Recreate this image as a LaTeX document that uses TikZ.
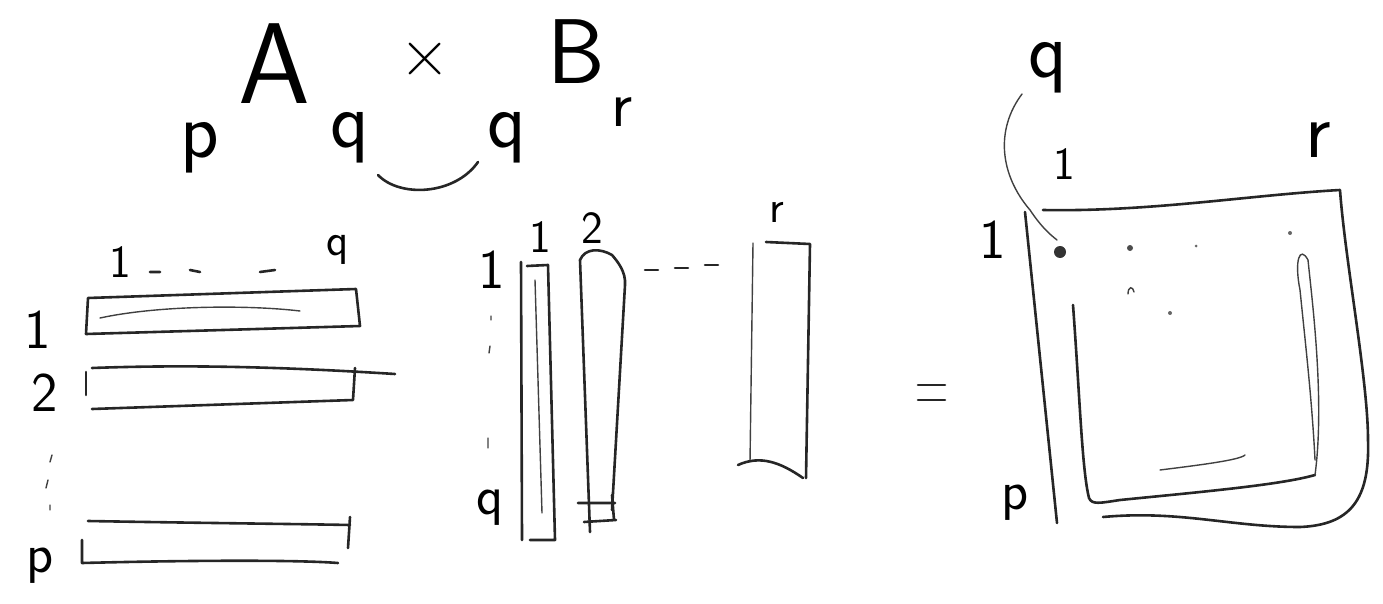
\documentclass[tikz,border=0pt]{standalone}
\begin{document}
\begin{tikzpicture}[x=1pt,y=-1pt,
  pen/.style={line width=2.6pt,line cap=round,line join=round,black!85},
  thin pen/.style={line width=1.4pt,line cap=round,black!75},
  big/.style={font=\sffamily\fontsize{115}{115}\selectfont},
  bigb/.style={font=\sffamily\fontsize{92}{92}\selectfont},
  mid/.style={font=\sffamily\fontsize{80}{80}\selectfont},
  lab/.style={font=\sffamily\fontsize{56}{56}\selectfont},
  sm/.style={font=\sffamily\fontsize{46}{46}\selectfont}]
\useasboundingbox (0,0) rectangle (1383,604);
% title
\node[big] (tA) at (274,64) {A};
\node[font=\sffamily\fontsize{70}{70}\selectfont] (tx) at (425,60) {×};
\node[bigb] (tB) at (576,52) {B};
\node[mid] (dp) at (200,148) {p};
\node[mid] (dq1) at (350,138) {q};
\node[mid] (dq2) at (507,138) {q};
\node[font=\sffamily\fontsize{66}{66}\selectfont] (dr) at (622,112) {r};
\draw[pen] (378,175) .. controls (400,198) and (455,195) .. (478,162);
% matrix A
\node[sm] (ac1) at (120,262) {1};
\node[sm] (acq) at (338,250) {q};
\draw[pen] (150,272)--(160,272) (190,270)--(200,272) (260,272)--(275,270);
\node[lab] (ar1) at (38,330) {1};
\node[lab] (ar2) at (45,393) {2};
\node[lab] (arp) at (40,566) {p};
\draw[pen] (88,298) -- (356,289) -- (360,326) -- (86,334) -- cycle;
\draw[thin pen] (100,318) .. controls (160,305) and (250,305) .. (300,311);
\draw[pen] (86,372)--(86,395);
\draw[pen] (92,368) .. controls (200,364) and (300,368) .. (395,374);
\draw[pen] (355,368)--(353,400)--(92,409);
\draw[thin pen] (52,455)--(50,462) (48,480)--(46,488) (50,505)--(50,510);
\draw[pen] (88,521) .. controls (200,523) and (300,524) .. (350,525);
\draw[pen] (350,517)--(348,548);
\draw[pen] (82,540)--(82,563) .. controls (200,560) and (300,560) .. (338,563);
% matrix B
\node[sm] (bc1) at (540,237) {1};
\node[sm] (bc2) at (592,228) {2};
\node[sm] (bcr) at (777,212) {r};
\node[lab] (br1) at (492,270) {1};
\node[lab] (brq) at (490,508) {q};
\draw[thin pen] (491,316)--(491,320) (490,346)--(489,353) (488,438)--(488,448);
\draw[pen] (521,262)--(522,540);
\draw[pen] (527,266)--(548,265)--(555,540)--(530,540);
\draw[thin pen] (535,280)--(542,513);
\draw[pen] (590,532)--(580,260) .. controls (585,248) and (600,248) .. (612,255)
  .. controls (618,262) and (626,272) .. (625,285) -- (612,510);
\draw[pen] (578,503)--(615,503) (584,522)--(616,520) (612,495)--(614,520);
\draw[pen] (645,270)--(658,270) (675,268)--(688,268) (705,265)--(718,265);
\draw[thin pen] (753,243)--(750,462);
\draw[pen] (766,242)--(810,244)--(806,478);
\draw[pen] (738,465) .. controls (760,455) and (780,462) .. (803,478);
% equals
\draw[pen] (918,385)--(945,385) (918,400)--(945,400);
% result matrix
\node[mid] (cq) at (1048,68) {q};
\node[sm] (cc1) at (1064,164) {1};
\node[mid] (ccr) at (1318,140) {r};
\node[lab] (cr1) at (993,240) {1};
\node[lab] (crp) at (1015,503) {p};
\draw[thin pen] (1022,94) .. controls (995,130) and (1000,175) .. (1030,210)
  .. controls (1040,225) and (1048,233) .. (1057,240);
\draw[pen] (1025,212)--(1057,523);
\draw[pen] (1043,210) .. controls (1150,212) and (1250,195) .. (1340,190)
  .. controls (1345,260) and (1368,380) .. (1368,440)
  .. controls (1370,500) and (1350,525) .. (1300,527)
  .. controls (1230,527) and (1180,510) .. (1103,517);
\draw[pen] (1073,305) .. controls (1080,400) and (1082,470) .. (1089,498)
  .. controls (1092,505) and (1100,503) .. (1120,500)
  .. controls (1200,492) and (1280,485) .. (1315,475);
\draw[thin pen] (1315,475) .. controls (1325,400) and (1312,300) .. (1308,260)
  .. controls (1300,245) and (1294,260) .. (1300,290) .. controls (1305,340) and (1312,400) .. (1315,460);
\draw[thin pen] (1160,470) .. controls (1200,465) and (1240,460) .. (1245,455);
\fill[black!80] (1060,252) circle (6);
\fill[black!70] (1130,248) circle (3);
\fill[black!60] (1196,246) circle (1.5);
\fill[black!60] (1290,233) circle (2);
\fill[black!60] (1170,313) circle (2);
\draw[thin pen] (1128,294) .. controls (1128,286) and (1133,286) .. (1134,292);
\end{tikzpicture}
\end{document}
